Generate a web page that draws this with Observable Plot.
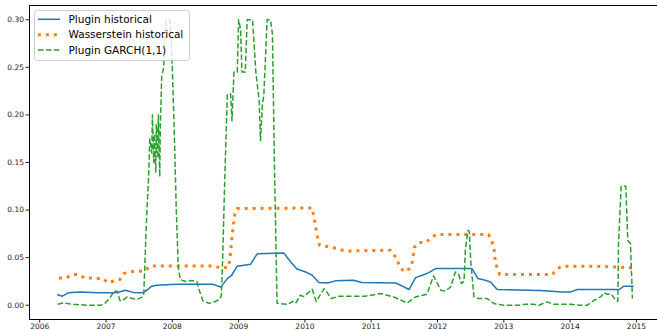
<!DOCTYPE html>
<html><head><meta charset="utf-8">
<script src="https://cdn.jsdelivr.net/npm/d3@7"></script>
<script src="https://cdn.jsdelivr.net/npm/@observablehq/plot@0.6"></script>
<style>body{margin:0;background:#fff} #chart{width:657px;height:330px;overflow:hidden}</style>
</head><body><div id="chart"></div>
<script>
const seriesNames = ["Plugin historical", "Wasserstein historical", "Plugin GARCH(1,1)"];
const seriesColors = ["#1f77b4", "#ff7f0e", "#2ca02c"];
const yTicks = [0, 0.05, 0.10, 0.15, 0.20, 0.25, 0.30];
const xTicks = [2006, 2007, 2008, 2009, 2010, 2011, 2012, 2013, 2014, 2015];

const pluginHistorical = [[2006.27,0.011],[2006.34,0.0095],[2006.43,0.013],[2006.62,0.014],[2006.87,0.013],[2007.11,0.013],[2007.20,0.014],[2007.29,0.0158],[2007.41,0.0135],[2007.55,0.013],[2007.62,0.016],[2007.69,0.020],[2007.76,0.021],[2008.05,0.022],[2008.43,0.022],[2008.61,0.022],[2008.73,0.019],[2008.83,0.028],[2008.89,0.031],[2008.98,0.041],[2009.18,0.043],[2009.28,0.054],[2009.68,0.055],[2009.78,0.046],[2009.88,0.038],[2010.01,0.035],[2010.11,0.0315],[2010.21,0.024],[2010.34,0.0234],[2010.46,0.0256],[2010.73,0.0263],[2010.86,0.0238],[2011.37,0.0234],[2011.47,0.020],[2011.57,0.0165],[2011.67,0.029],[2011.77,0.0315],[2011.87,0.0343],[2011.97,0.0385],[2012.52,0.0385],[2012.61,0.028],[2012.72,0.0263],[2012.80,0.0245],[2012.90,0.0165],[2013.55,0.0155],[2013.88,0.014],[2014.01,0.014],[2014.11,0.0165],[2014.71,0.0165],[2014.73,0.016],[2014.81,0.02],[2014.95,0.02]];

const wassersteinHistorical = [[2006.29,0.0287],[2006.40,0.0287],[2006.49,0.0322],[2006.59,0.0322],[2006.67,0.0287],[2006.78,0.0287],[2006.89,0.028],[2006.96,0.028],[2007.02,0.0238],[2007.12,0.0255],[2007.21,0.027],[2007.27,0.0333],[2007.36,0.035],[2007.47,0.036],[2007.58,0.0357],[2007.67,0.0413],[2008.17,0.0413],[2008.58,0.0413],[2008.65,0.041],[2008.73,0.039],[2008.85,0.040],[2008.88,0.056],[2008.90,0.072],[2008.94,0.095],[2008.98,0.1016],[2010.11,0.1022],[2010.15,0.0875],[2010.19,0.072],[2010.22,0.063],[2010.41,0.061],[2010.51,0.0588],[2010.61,0.057],[2011.29,0.0578],[2011.34,0.054],[2011.39,0.047],[2011.44,0.0396],[2011.50,0.035],[2011.58,0.0385],[2011.62,0.0455],[2011.65,0.0606],[2011.72,0.066],[2011.82,0.066],[2011.90,0.070],[2011.97,0.0743],[2012.77,0.0743],[2012.81,0.069],[2012.85,0.061],[2012.87,0.047],[2012.90,0.0385],[2012.94,0.0322],[2013.73,0.0322],[2013.81,0.0385],[2013.88,0.041],[2014.36,0.041],[2014.66,0.0403],[2014.95,0.039]];

const pluginGarch = [[2006.27,0.001],[2006.36,0.0024],[2006.51,0.001],[2006.72,0.0],[2006.92,0.0],[2006.99,0.0024],[2007.07,0.0087],[2007.12,0.0147],[2007.17,0.0147],[2007.21,0.005],[2007.24,0.0045],[2007.32,0.0087],[2007.40,0.007],[2007.47,0.006],[2007.55,0.0087],[2007.57,0.012],[2007.60,0.07],[2007.62,0.105],[2007.64,0.13],[2007.66,0.175],[2007.67,0.17],[2007.69,0.16],[2007.70,0.2],[2007.72,0.15],[2007.73,0.18],[2007.75,0.14],[2007.76,0.19],[2007.78,0.155],[2007.79,0.2],[2007.81,0.135],[2007.82,0.19],[2007.84,0.24],[2007.87,0.25],[2007.89,0.29],[2007.91,0.30],[2007.96,0.30],[2007.98,0.28],[2008.00,0.25],[2008.03,0.18],[2008.06,0.10],[2008.09,0.04],[2008.12,0.027],[2008.20,0.025],[2008.27,0.026],[2008.37,0.025],[2008.41,0.015],[2008.46,0.005],[2008.55,0.002],[2008.62,0.003],[2008.71,0.006],[2008.74,0.01],[2008.76,0.05],[2008.79,0.13],[2008.83,0.222],[2008.88,0.222],[2008.90,0.194],[2008.93,0.245],[2008.98,0.245],[2009.00,0.30],[2009.03,0.29],[2009.05,0.245],[2009.10,0.245],[2009.13,0.30],[2009.21,0.30],[2009.26,0.245],[2009.31,0.215],[2009.33,0.173],[2009.36,0.212],[2009.38,0.22],[2009.43,0.30],[2009.48,0.30],[2009.51,0.285],[2009.54,0.15],[2009.58,0.002],[2009.75,0.001],[2009.81,0.004],[2009.86,0.002],[2009.93,0.0105],[2009.98,0.009],[2010.11,0.0168],[2010.17,0.004],[2010.29,0.0175],[2010.40,0.007],[2010.51,0.0095],[2010.79,0.0095],[2010.91,0.0095],[2011.14,0.0123],[2011.34,0.0087],[2011.54,0.0024],[2011.67,0.0087],[2011.84,0.0116],[2011.94,0.0308],[2012.05,0.0158],[2012.12,0.015],[2012.20,0.0193],[2012.27,0.035],[2012.32,0.0322],[2012.36,0.0228],[2012.40,0.0252],[2012.42,0.0578],[2012.46,0.0788],[2012.48,0.077],[2012.50,0.047],[2012.55,0.0087],[2012.62,0.007],[2012.75,0.007],[2012.85,0.0018],[2013.00,0.0],[2013.20,0.0],[2013.33,0.001],[2013.45,0.001],[2013.53,0.0],[2013.65,0.0035],[2013.75,0.001],[2014.01,0.001],[2014.16,0.0],[2014.26,0.0],[2014.36,0.005],[2014.46,0.0087],[2014.51,0.013],[2014.56,0.0116],[2014.62,0.012],[2014.68,0.006],[2014.72,0.004],[2014.73,0.065],[2014.77,0.125],[2014.84,0.125],[2014.87,0.068],[2014.91,0.065],[2014.94,0.007]];

const toRows = arr => arr.map(([t, v]) => ({t, v}));
const xDomain = [2005.846, 2015.318];
const yDomain = [-0.015, 0.315];

const chart = Plot.plot({
  width: 657, height: 330,
  marginLeft: 29, marginRight: 0, marginTop: 5, marginBottom: 11,
  style: {fontFamily: "DejaVu Sans", fontSize: "7.5px", color: "#222", background: "white"},
  x: {type: "linear", domain: xDomain, ticks: xTicks, tickFormat: d3.format("d"), tickSize: 3.5, tickPadding: 1, label: null},
  y: {domain: yDomain, ticks: yTicks, tickFormat: d3.format(".2f"), tickSize: 3.5, tickPadding: 2, label: null},
  marks: [
    Plot.line(toRows(pluginHistorical), {x: "t", y: "v", stroke: seriesColors[0], strokeWidth: 1.5}),
    Plot.line(toRows(wassersteinHistorical), {x: "t", y: "v", stroke: seriesColors[1], strokeWidth: 3, strokeDasharray: "3,4.95", strokeLinecap: "butt"}),
    Plot.line(toRows(pluginGarch), {x: "t", y: "v", stroke: seriesColors[2], strokeWidth: 1.5, strokeDasharray: "5.55,2.4", strokeLinecap: "butt"}),
    Plot.ruleY([yDomain[1]], {stroke: "#000", strokeWidth: 1}),
    Plot.ruleY([yDomain[0]], {stroke: "#000", strokeWidth: 1}),
    Plot.ruleX([xDomain[0]], {stroke: "#000", strokeWidth: 1})
  ]
});
document.getElementById("chart").appendChild(chart);

// legend inside the plot area
const svg = d3.select(chart);
const lg = svg.append("g").attr("text-anchor", "start");
lg.append("rect").attr("x", 34.5).attr("y", 10.5).attr("width", 155).attr("height", 50)
  .attr("rx", 3).attr("fill", "white").attr("fill-opacity", 0.8).attr("stroke", "#cccccc").attr("stroke-width", 1);
const dashes = [null, "3,4.95", "5.55,2.4"];
const widths = [1.5, 3, 1.5];
seriesNames.forEach((name, i) => {
  const y = 19.3 + i * 15.4;
  const l = lg.append("line").attr("x1", 38).attr("x2", 60).attr("y1", y).attr("y2", y)
    .attr("stroke", seriesColors[i]).attr("stroke-width", widths[i]);
  if (dashes[i]) l.attr("stroke-dasharray", dashes[i]);
  lg.append("text").attr("x", 68.5).attr("y", y).attr("dy", "0.35em").attr("text-anchor", "start")
    .attr("font-family", "DejaVu Sans").attr("font-size", "10.5px").attr("fill", "#000").text(name);
});
</script>
</body></html>
